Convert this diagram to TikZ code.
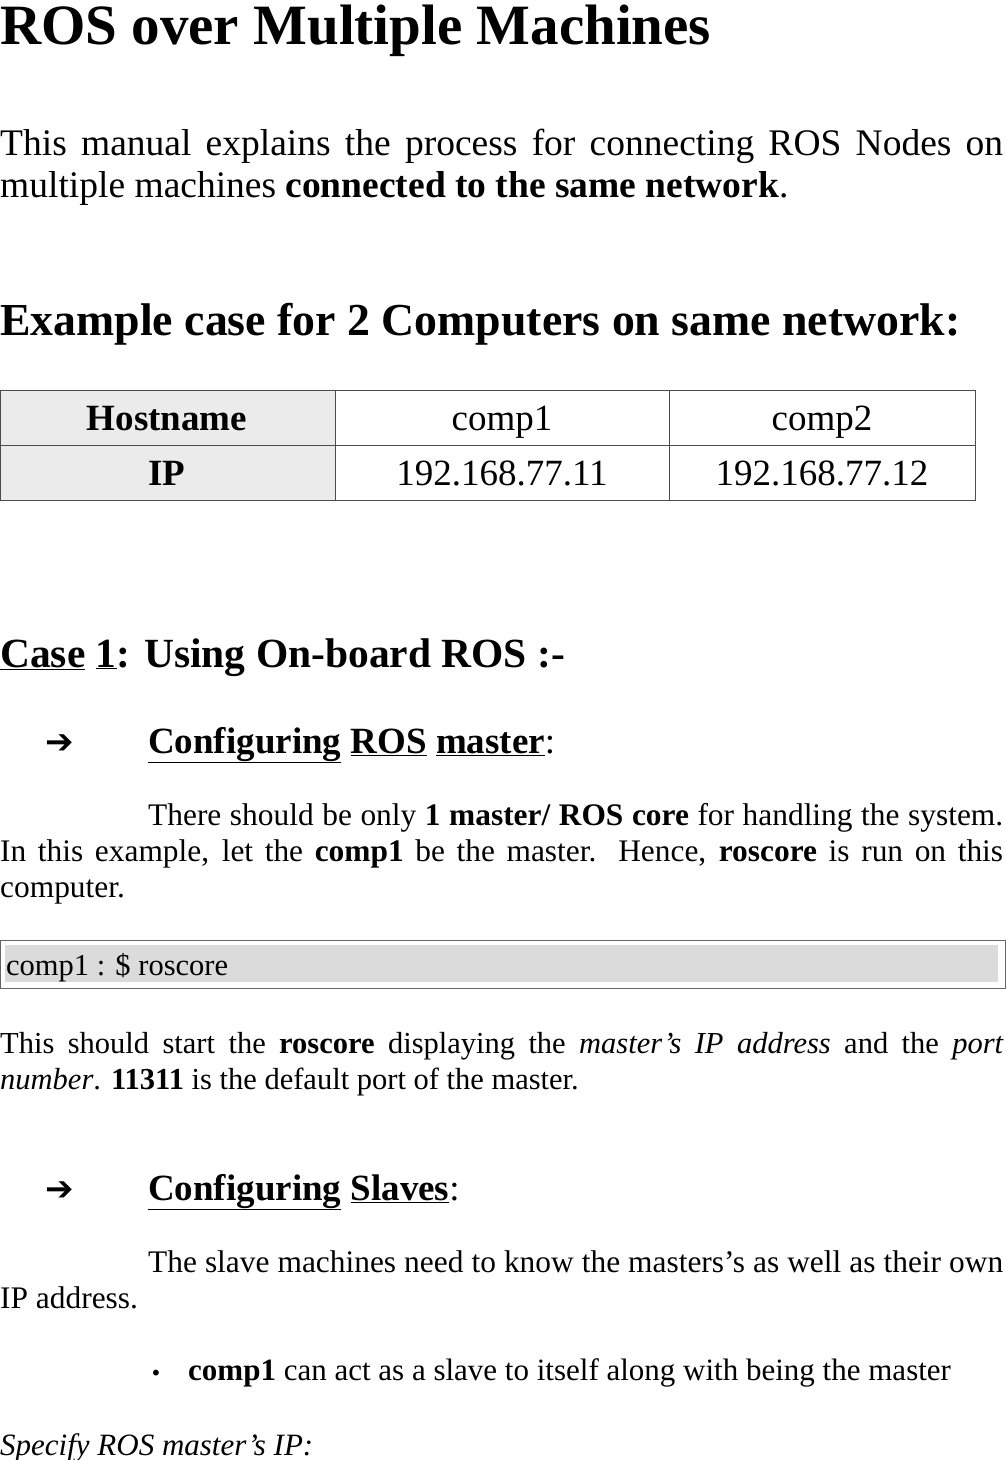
\documentclass[tikz,border=0pt]{standalone}
\usepackage{fontspec}
\setmainfont{Liberation Serif}
\newfontfamily\symfont{DejaVu Sans}
\tikzset{
  txt/.style={anchor=base west,inner sep=0pt},
  cell/.style={draw=black!70,line width=0.8pt},
}
\hyphenpenalty=10000
\begin{document}
\begin{tikzpicture}[x=1pt,y=-1pt]
\useasboundingbox (0,0) rectangle (1005,1460);

% title and intro
\node[txt] (title) at (0,44) {\fontsize{57}{62}\selectfont\bfseries ROS over Multiple Machines};
\node[txt] (intro) at (0,155) {\parbox[t]{1003pt}{\fontsize{37.5}{42}\selectfont This manual explains the process for connecting ROS Nodes on multiple machines \textbf{connected to the same network}.}};
\node[txt] (example) at (0,335) {\fontsize{45.8}{50}\selectfont\bfseries Example case for 2 Computers on same network:};

% table
\fill[black!8] (0,390) rectangle (335,500);
\draw[cell] (0,390) rectangle (975,500);
\draw[cell] (0,445) -- (975,445);
\draw[cell] (335,390) -- (335,500);
\draw[cell] (669,390) -- (669,500);
\node[anchor=base,inner sep=0pt] (hhost) at (167,430) {\fontsize{37}{42}\selectfont\bfseries Hostname};
\node[anchor=base,inner sep=0pt] (hip) at (167,485) {\fontsize{37}{42}\selectfont\bfseries IP};
\node[anchor=base,inner sep=0pt] (c1) at (502,430) {\fontsize{37}{42}\selectfont comp1};
\node[anchor=base,inner sep=0pt] (c2) at (822,430) {\fontsize{37}{42}\selectfont comp2};
\node[anchor=base,inner sep=0pt] (ip1) at (502,485) {\fontsize{37}{42}\selectfont 192.168.77.11};
\node[anchor=base,inner sep=0pt] (ip2) at (822,485) {\fontsize{37}{42}\selectfont 192.168.77.12};

% case 1
\node[txt] (case) at (0,667) {\fontsize{41.5}{46}\selectfont\bfseries \underline{Case} \underline{1}: Using On-board ROS :-};
\node[txt] (arrowa) at (45,753) {\fontsize{34}{38}\selectfont\symfont\bfseries ➔};
\node[txt] (master) at (148,753) {\fontsize{37}{42}\selectfont\textbf{\underline{Configuring} \underline{ROS} \underline{master}}:};
\node[txt] (mastertext) at (0,825) {\parbox[t]{1003pt}{\fontsize{31.4}{36}\selectfont\hspace*{148pt}There should be only \textbf{1 master/ ROS core} for handling the system. In this example, let the \textbf{comp1} be the master. Hence, \textbf{roscore} is run on this computer.}};

% command box
\draw[black!60,line width=0.8pt] (0,940) rectangle (1005,988);
\fill[black!14] (5,945) rectangle (998,982);
\node[txt] (cmd) at (6,975) {\fontsize{30.5}{34}\selectfont comp1 : \$ roscore};

\node[txt] (starttext) at (0,1053) {\parbox[t]{1003pt}{\fontsize{30.5}{36}\selectfont This should start the \textbf{roscore} displaying the \textit{master’s IP address} and the \textit{port number}. \textbf{11311} is the default port of the master.}};

% slaves
\node[txt] (arrowb) at (45,1200) {\fontsize{34}{38}\selectfont\symfont\bfseries ➔};
\node[txt] (slaves) at (148,1200) {\fontsize{37}{42}\selectfont\textbf{\underline{Configuring} \underline{Slaves}}:};
\node[txt] (slavetext) at (0,1272) {\parbox[t]{1003pt}{\fontsize{31.4}{36}\selectfont\hspace*{148pt}The slave machines need to know the masters’s as well as their own IP address.}};
\node[txt] (bullet) at (150,1380) {\fontsize{20}{28}\selectfont\symfont •};
\node[txt] (item) at (188,1380) {\fontsize{31}{34}\selectfont\textbf{comp1} can act as a slave to itself along with being the master};
\node[txt] (specify) at (0,1455) {\fontsize{31}{34}\selectfont\itshape Specify ROS master’s IP:};
\end{tikzpicture}
\end{document}
